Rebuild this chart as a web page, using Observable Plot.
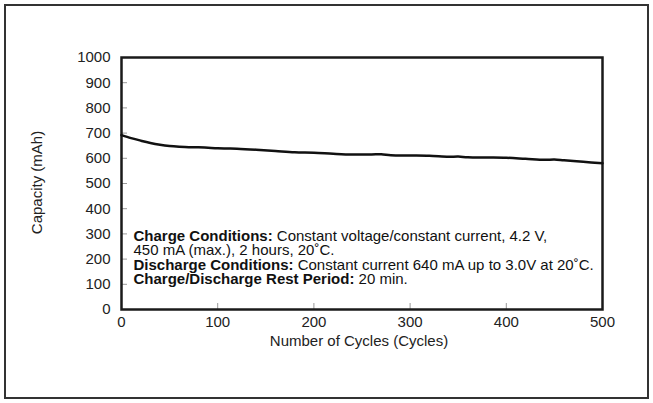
<!DOCTYPE html>
<html><head><meta charset="utf-8">
<script src="https://cdn.jsdelivr.net/npm/d3@7"></script>
<script src="https://cdn.jsdelivr.net/npm/@observablehq/plot@0.6"></script>
<style>
body{margin:0;background:#fff;}
#wrap{position:relative;width:653px;height:403px;overflow:hidden;}
#border{position:absolute;left:4px;top:4px;width:641px;height:391px;border:2.5px solid #333;pointer-events:none;}
</style></head><body>
<div id="wrap"><div id="chart"></div><div id="border"></div></div>
<script>
const cycles   = [0, 10, 20, 30, 40, 50, 60, 70, 80, 90, 100, 110, 120, 140, 160, 180, 200, 220, 240, 260, 270, 280, 300, 320, 340, 350, 360, 380, 400, 420, 440, 450, 460, 480, 500];
const capacity = [692, 680, 670, 661, 654, 649, 646, 644, 644, 642, 640, 639, 638, 634, 629, 624, 622, 618, 615, 615, 616, 612, 611, 610, 606, 607, 604, 603, 602, 598, 594, 595, 592, 586, 580];
const xTicks = [0, 100, 200, 300, 400, 500];
const yTicks = [0, 100, 200, 300, 400, 500, 600, 700, 800, 900, 1000];
const annotBold = ["Charge Conditions:", "", "Discharge Conditions:", "Charge/Discharge Rest Period:"];
const annotRest = [" Constant voltage/constant current, 4.2 V,", "450 mA (max.), 2 hours, 20\u02DAC.", " Constant current 640 mA up to 3.0V at 20\u02DAC.", " 20 min."];
const xLabel = "Number of Cycles (Cycles)";
const yLabel = "Capacity (mAh)";

const data = cycles.map((c, i) => ({cycle: c, cap: capacity[i]}));
const annotText = annotBold.map((b, i) => b + annotRest[i]).join("\n");

const plot = Plot.plot({
  width: 653, height: 403,
  marginLeft: 121, marginRight: 51, marginTop: 57, marginBottom: 94,
  style: {fontFamily: "'Liberation Sans', Arial, sans-serif", fontSize: "15px", color: "#222", background: "transparent"},
  x: {domain: [0, 500]},
  y: {domain: [0, 1000]},
  marks: [
    Plot.axisY(yTicks.slice(1, -1), {tickSize: -6, stroke: "#999", tickFormat: () => "", label: null}),
    Plot.axisY(yTicks, {tickSize: 0, tickPadding: 11, tickFormat: d => String(d), label: null, fill: "#222"}),
    Plot.axisX(xTicks.slice(1, -1), {tickSize: -6, stroke: "#999", tickFormat: () => "", label: null}),
    Plot.axisX(xTicks, {tickSize: 0, tickPadding: 7, tickFormat: d => String(d), label: null, fill: "#222"}),
    Plot.frame({stroke: "#1a1a1a", strokeWidth: 2.5}),
    Plot.line(data, {x: "cycle", y: "cap", stroke: "#111", strokeWidth: 2.5, curve: "catmull-rom"}),
    Plot.text([annotText], {text: d => d, frameAnchor: "top-left", textAnchor: "start", lineAnchor: "top", lineHeight: 0.96, dx: 12, dy: 173, fill: "#111", className: "annot"}),
    Plot.text([xLabel], {text: d => d, frameAnchor: "bottom", lineAnchor: "middle", dx: -3, dy: 32, fill: "#222"}),
    Plot.text([yLabel], {text: d => d, frameAnchor: "left", textAnchor: "middle", rotate: -90, lineAnchor: "middle", dx: -84, dy: -1, fill: "#222"})
  ]
});
document.getElementById("chart").appendChild(plot);

// make the leading label of each annotation line bold
const NS = "http://www.w3.org/2000/svg";
const annotEl = plot.querySelector(".annot text");
if (annotEl) {
  const lines = annotEl.querySelectorAll("tspan");
  lines.forEach((ts, i) => {
    if (!annotBold[i]) return;
    ts.textContent = "";
    const b = document.createElementNS(NS, "tspan");
    b.setAttribute("font-weight", "bold");
    b.textContent = annotBold[i];
    ts.appendChild(b);
    ts.appendChild(document.createTextNode(annotRest[i]));
  });
}
</script>
</body></html>
